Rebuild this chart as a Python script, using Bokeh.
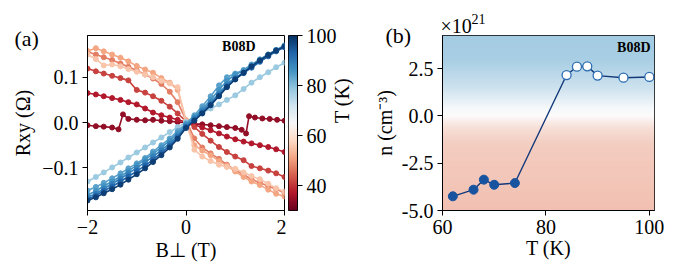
import numpy as np
from bokeh.plotting import figure
from bokeh.layouts import row
from bokeh.models import (Range1d, FixedTicker, CustomJSTickFormatter, NumeralTickFormatter,
                          Label, LinearColorMapper)
from bokeh.embed import file_html
from bokeh.resources import INLINE

# ---------------- data: panel (a) ----------------
B = [-2.0, -1.83, -1.67, -1.5, -1.33, -1.17, -1.0, -0.83, -0.67, -0.5, -0.33, -0.17, 0.0,
     0.17, 0.33, 0.5, 0.67, 0.83, 1.0, 1.17, 1.33, 1.5, 1.67, 1.83, 2.0]

# lowest-temperature curve has its own field points (jumps)
B_t34 = [-2.0, -1.83, -1.67, -1.5, -1.37, -1.28, -1.17, -1.0, -0.83, -0.67, -0.5, -0.33, -0.17, 0.0,
         0.17, 0.33, 0.5, 0.67, 0.83, 1.0, 1.13, 1.22, 1.28, 1.4, 1.55, 1.7, 1.85, 2.0]
R_t34 = [-0.006, -0.008, -0.009, -0.011, -0.015, 0.018, 0.008, 0.006, 0.005, 0.006, 0.004, 0.003, 0.001, 0.0,
         -0.003, -0.004, -0.006, -0.008, -0.010, -0.012, -0.016, -0.024, 0.014, 0.011, 0.009, 0.008, 0.006, 0.004]

R_t37 = [0.065, 0.062, 0.058, 0.054, 0.050, 0.045, 0.040, 0.031, 0.022, 0.016, 0.011, 0.006, 0.001,
         -0.005, -0.011, -0.017, -0.024, -0.031, -0.037, -0.042, -0.046, -0.050, -0.054, -0.059, -0.065]
R_t41 = [0.119, 0.113, 0.108, 0.103, 0.098, 0.093, 0.072, 0.066, 0.058, 0.048, 0.035, 0.020, 0.003,
         -0.010, -0.025, -0.040, -0.054, -0.065, -0.075, -0.083, -0.096, -0.101, -0.106, -0.112, -0.120]
R_t47 = [0.156, 0.150, 0.144, 0.138, 0.130, 0.123, 0.115, 0.106, 0.097, 0.085, 0.068, 0.045, 0.005,
         -0.035, -0.055, -0.068, -0.080, -0.093, -0.105, -0.115, -0.125, -0.133, -0.140, -0.147, -0.155]
R_t51 = [0.158, 0.164, 0.157, 0.150, 0.143, 0.135, 0.125, 0.117, 0.110, 0.098, 0.088, 0.072, 0.005,
         -0.050, -0.062, -0.072, -0.085, -0.095, -0.108, -0.120, -0.130, -0.138, -0.148, -0.157, -0.163]
R_t55 = [0.150, 0.140, 0.126, 0.128, 0.124, 0.118, 0.112, 0.106, 0.100, 0.092, 0.086, 0.078, 0.002,
         -0.060, -0.075, -0.085, -0.093, -0.098, -0.102, -0.110, -0.118, -0.125, -0.135, -0.145, -0.152]
R_t78 = [-0.130, -0.120, -0.110, -0.099, -0.088, -0.077, -0.066, -0.055, -0.044, -0.033, -0.021, -0.010, 0.001,
         0.012, 0.022, 0.031, 0.040, 0.050, 0.060, 0.074, 0.088, 0.100, 0.111, 0.122, 0.132]
R_t84 = [-0.150, -0.142, -0.133, -0.123, -0.112, -0.101, -0.090, -0.078, -0.064, -0.050, -0.035, -0.019, -0.002,
         0.016, 0.036, 0.058, 0.082, 0.100, 0.108, 0.116, 0.128, 0.139, 0.150, 0.160, 0.168]
R_t86 = [-0.160, -0.151, -0.140, -0.130, -0.119, -0.107, -0.094, -0.082, -0.069, -0.055, -0.040, -0.024, -0.005,
         0.012, 0.030, 0.050, 0.072, 0.092, 0.106, 0.114, 0.126, 0.139, 0.150, 0.160, 0.170]
R_t89 = [-0.165, -0.157, -0.146, -0.135, -0.124, -0.112, -0.100, -0.088, -0.075, -0.061, -0.046, -0.029, -0.008,
         0.009, 0.026, 0.044, 0.064, 0.084, 0.099, 0.110, 0.123, 0.137, 0.148, 0.158, 0.167]
R_t93 = [-0.169, -0.161, -0.151, -0.141, -0.130, -0.119, -0.107, -0.095, -0.082, -0.067, -0.051, -0.033, -0.010,
         0.006, 0.022, 0.040, 0.060, 0.080, 0.096, 0.109, 0.121, 0.134, 0.146, 0.157, 0.166]
R_t98 = [-0.172, -0.165, -0.156, -0.147, -0.137, -0.126, -0.114, -0.101, -0.087, -0.072, -0.055, -0.036, -0.012,
         0.004, 0.020, 0.038, 0.058, 0.078, 0.095, 0.110, 0.124, 0.137, 0.149, 0.159, 0.168]

curve_T = [34, 37, 41, 47, 51, 55, 78, 84, 86, 89, 93, 98]
curve_B = [B_t34, B, B, B, B, B, B, B, B, B, B, B]
curve_R = [R_t34, R_t37, R_t41, R_t47, R_t51, R_t55, R_t78, R_t84, R_t86, R_t89, R_t93, R_t98]

# ---------------- data: panel (b) ----------------
T_n = [62, 66, 68, 70, 74, 84, 86, 88, 90, 95, 100]
n_e21 = [-4.25, -3.90, -3.37, -3.64, -3.55, 2.16, 2.60, 2.62, 2.13, 2.02, 2.06]

# colour scale and tick values
T_low, T_high = 30, 100
cb_ticks = [40, 60, 80, 100]
a_xticks = [-2, 0, 2]
a_yticks = [-0.1, 0.0, 0.1]
b_xticks = [60, 80, 100]
b_yticks = [-5.0, -2.5, 0.0, 2.5]

# ---------------- style ----------------
SERIF = "Liberation Serif"
FS = "20px"
RDBU = ["#67001f", "#b2182b", "#d6604d", "#f4a582", "#fddbc7", "#f7f7f7",
        "#d1e5f0", "#92c5de", "#4393c3", "#2166ac", "#053061"]


def hex2rgb(h):
    return tuple(int(h[i:i + 2], 16) for i in (1, 3, 5))


RDBU_RGB = np.array([hex2rgb(c) for c in RDBU], dtype=float)
RDBU_POS = np.linspace(0, 1, len(RDBU))


def rdbu(t):
    t = min(max(t, 0.0), 1.0)
    r, g, b = (np.interp(t, RDBU_POS, RDBU_RGB[:, k]) for k in range(3))
    return "#%02x%02x%02x" % (int(round(r)), int(round(g)), int(round(b)))


palette = [rdbu(i / 255) for i in range(256)]


def style_axes(p):
    for ax in list(p.xaxis) + list(p.yaxis):
        ax.major_label_text_font = SERIF
        ax.major_label_text_font_size = FS
        ax.major_label_text_color = "black"
        ax.major_tick_out = 5
        ax.major_tick_in = 0
        ax.major_tick_line_color = "black"
        ax.minor_tick_line_color = None
        ax.axis_line_color = "black"
        ax.major_label_standoff = 4
        ax.axis_label_text_font = SERIF
        ax.axis_label_text_font_size = FS
        ax.axis_label_text_font_style = "normal"
        ax.axis_label_text_color = "black"
    p.xgrid.visible = False
    p.ygrid.visible = False
    p.outline_line_color = "black"
    p.outline_line_width = 1
    p.outline_line_alpha = 1
    p.background_fill_color = "white"
    p.border_fill_color = "white"


def clab(p, side, x, y, text, size=FS, align="left", baseline="middle"):
    """text placed in canvas pixel coordinates, attached to a side panel (outside the frame)"""
    p.add_layout(Label(x=x, y=y, x_units="canvas", y_units="canvas", text=text,
                       text_font=SERIF, text_font_size=size, text_align=align,
                       text_baseline=baseline, text_color="black"), side)


def dlab(p, x, y, text, dx, dy, size="14px", style="bold"):
    p.add_layout(Label(x=x, y=y, x_offset=dx, y_offset=dy, text=text, text_font=SERIF,
                       text_font_size=size, text_font_style=style, text_align="right",
                       text_baseline="middle", text_color="black"))


H = 276
TOP = 35
BOT = H - 210

# ---------------- panel (a) ----------------
a_x0, a_x1 = -2.0, 2.0
a_y0, a_y1 = -0.194, 0.192
pa = figure(width=286, height=H, x_range=Range1d(a_x0, a_x1), y_range=Range1d(a_y0, a_y1),
            output_backend="svg", toolbar_location=None, min_border=0)
pa.min_border_left = 87
pa.min_border_right = 2
pa.min_border_top = TOP
pa.min_border_bottom = BOT

for T, bb, rr in zip(curve_T, curve_B, curve_R):
    c = rdbu((T - T_low) / (T_high - T_low))
    pa.line(bb, rr, line_color=c, line_width=1.6)
    pa.scatter(bb, rr, size=5, fill_color=c, line_color=c)

style_axes(pa)
pa.xaxis.ticker = FixedTicker(ticks=a_xticks)
pa.yaxis.ticker = FixedTicker(ticks=a_yticks)
pa.xaxis.formatter = CustomJSTickFormatter(
    code="return (tick < 0 ? '\\u2212' : '') + Math.abs(tick).toFixed(0);")
pa.yaxis.formatter = CustomJSTickFormatter(
    code="return (tick < 0 ? '\\u2212' : '') + Math.abs(tick).toFixed(1);")
pa.yaxis.axis_label = "Rxy (\u03A9)"
pa.yaxis.axis_label_standoff = 5
pa.xaxis.axis_label = "B\u22A5 (T)"
pa.xaxis.axis_label_standoff = 2

clab(pa, "above", 14, 38, "(a)", size="22px")
dlab(pa, a_x1, a_y1, "B08D", -29, -11)

# ---------------- colour bar ----------------
pcb = figure(width=84, height=H, x_range=Range1d(0, 1), y_range=Range1d(T_low, T_high),
             output_backend="svg", toolbar_location=None, min_border=0,
             x_axis_location=None, y_axis_location="right")
pcb.min_border_left = 2
pcb.min_border_right = 73
pcb.min_border_top = TOP
pcb.min_border_bottom = BOT
mapper = LinearColorMapper(palette=palette, low=T_low, high=T_high)
grad = np.linspace(T_low, T_high, 256).reshape(-1, 1)
pcb.image(image=[grad], x=0, y=T_low, dw=1, dh=T_high - T_low, color_mapper=mapper)
style_axes(pcb)
pcb.yaxis.ticker = FixedTicker(ticks=cb_ticks)
pcb.yaxis.axis_label = "T (K)"
pcb.yaxis.axis_label_standoff = 2
pcb.yaxis.axis_label_orientation = np.pi / 2

# ---------------- panel (b) ----------------
b_x0, b_x1 = 60, 101
b_y0, b_y1 = -5.0, 4.25
pb = figure(width=326, height=H, x_range=Range1d(b_x0, b_x1), y_range=Range1d(b_y0, b_y1),
            output_backend="svg", toolbar_location=None, min_border=0)
pb.min_border_left = 70
pb.min_border_right = 42
pb.min_border_top = TOP
pb.min_border_bottom = BOT

# background gradient (blue above zero, red below)
stop_v = [b_y0, -1.5, -0.6, 0.0, 0.4, 1.5, 3.0, b_y1]
stop_c = [(242, 192, 178), (243, 205, 192), (247, 224, 216), (252, 250, 250),
          (246, 249, 251), (205, 226, 238), (168, 206, 228), (163, 203, 226)]
NR = 240
rows_v = np.linspace(b_y0, b_y1, NR)
img = np.empty((NR, 2), dtype=np.uint32)
view = img.view(dtype=np.uint8).reshape((NR, 2, 4))
for k in range(3):
    ch = np.interp(rows_v, stop_v, [c[k] for c in stop_c])
    view[:, :, k] = np.round(ch)[:, None].astype(np.uint8)
view[:, :, 3] = 255
pb.image_rgba(image=[img], x=b_x0, y=b_y0, dw=b_x1 - b_x0, dh=b_y1 - b_y0)

pb.line(T_n, n_e21, line_color="#12397a", line_width=1.4)
neg_T = [t for t, n in zip(T_n, n_e21) if n < 0]
neg_n = [n for n in n_e21 if n < 0]
pos_T = [t for t, n in zip(T_n, n_e21) if n >= 0]
pos_n = [n for n in n_e21 if n >= 0]
pb.scatter(neg_T, neg_n, size=9, fill_color="#17539e", line_color="#17539e")
pb.scatter(pos_T, pos_n, size=9, fill_color="white", line_color="#2c6db2", line_width=1.3)

style_axes(pb)
pb.xaxis.ticker = FixedTicker(ticks=b_xticks)
pb.yaxis.ticker = FixedTicker(ticks=b_yticks)
pb.yaxis.formatter = NumeralTickFormatter(format="0.0")
pb.yaxis.axis_label = "n (cm\u207B\u00B3)"
pb.yaxis.axis_label_standoff = 3
pb.xaxis.axis_label = "T (K)"
pb.xaxis.axis_label_standoff = 0

clab(pb, "above", 70, 25, "\u00D710")
clab(pb, "right", 101, 18, "21", size="14px")
clab(pb, "right", 15, 35, "(b)", size="22px")
dlab(pb, b_x1, b_y1, "B08D", -4, -12)

layout = row(pa, pcb, pb)
open("out.html", "w").write(file_html(layout, INLINE))
